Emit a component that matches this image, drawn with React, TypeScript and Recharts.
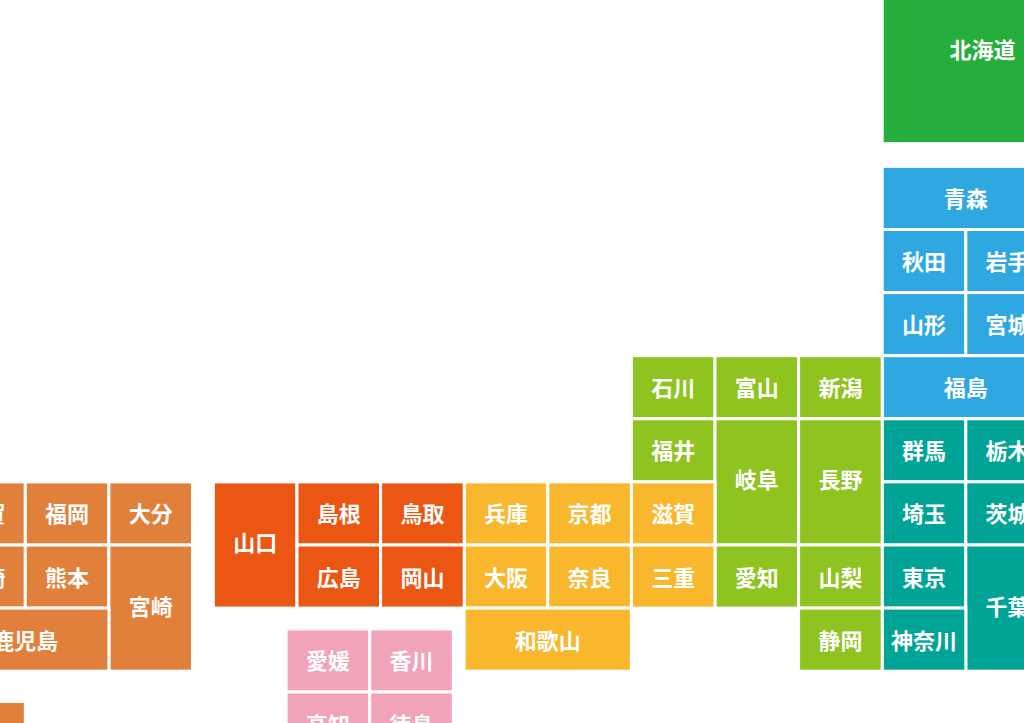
import { Scatter, ScatterChart, XAxis, YAxis } from "recharts";

// tile: [name, col, row, colSpan, rowSpan] in grid units
type Tile = [string, number, number, number, number];

const hokkaido: Tile[] = [["北海道", 8, -3.36, 2.4, 3]];

const tohoku: Tile[] = [
  ["青森", 8, 0, 2, 1],
  ["秋田", 8, 1, 1, 1],
  ["岩手", 9, 1, 1, 1],
  ["山形", 8, 2, 1, 1],
  ["宮城", 9, 2, 1, 1],
  ["福島", 8, 3, 2, 1],
];

const kanto: Tile[] = [
  ["群馬", 8, 4, 1, 1],
  ["栃木", 9, 4, 1, 1],
  ["埼玉", 8, 5, 1, 1],
  ["茨城", 9, 5, 1, 1],
  ["東京", 8, 6, 1, 1],
  ["千葉", 9, 6, 1, 2],
  ["神奈川", 8, 7, 1, 1],
];

const chubu: Tile[] = [
  ["石川", 5, 3, 1, 1],
  ["富山", 6, 3, 1, 1],
  ["新潟", 7, 3, 1, 1],
  ["福井", 5, 4, 1, 1],
  ["岐阜", 6, 4, 1, 2],
  ["長野", 7, 4, 1, 2],
  ["愛知", 6, 6, 1, 1],
  ["山梨", 7, 6, 1, 1],
  ["静岡", 7, 7, 1, 1],
];

const kansai: Tile[] = [
  ["兵庫", 3, 5, 1, 1],
  ["京都", 4, 5, 1, 1],
  ["滋賀", 5, 5, 1, 1],
  ["大阪", 3, 6, 1, 1],
  ["奈良", 4, 6, 1, 1],
  ["三重", 5, 6, 1, 1],
  ["和歌山", 3, 7, 2, 1],
];

const chugoku: Tile[] = [
  ["山口", 0, 5, 1, 2],
  ["島根", 1, 5, 1, 1],
  ["鳥取", 2, 5, 1, 1],
  ["広島", 1, 6, 1, 1],
  ["岡山", 2, 6, 1, 1],
];

const shikoku: Tile[] = [
  ["愛媛", 0.87, 7.33, 1, 1],
  ["香川", 1.87, 7.33, 1, 1],
  ["高知", 0.87, 8.33, 1, 1],
  ["徳島", 1.87, 8.33, 1, 1],
];

const kyushu: Tile[] = [
  ["佐賀", -3.25, 5, 1, 1],
  ["福岡", -2.25, 5, 1, 1],
  ["大分", -1.25, 5, 1, 1],
  ["長崎", -3.25, 6, 1, 1],
  ["熊本", -2.25, 6, 1, 1],
  ["宮崎", -1.25, 6, 1, 2],
  ["鹿児島", -3.25, 7, 2, 1],
  ["沖縄", -3.25, 8.48, 1, 1],
];

const regions: { name: string; tiles: Tile[]; color: string }[] = [
  { name: "北海道", tiles: hokkaido, color: "#25AE3B" },
  { name: "東北", tiles: tohoku, color: "#2FA8E1" },
  { name: "関東", tiles: kanto, color: "#00A496" },
  { name: "中部", tiles: chubu, color: "#8FC31F" },
  { name: "近畿", tiles: kansai, color: "#F9B72D" },
  { name: "中国", tiles: chugoku, color: "#EB5614" },
  { name: "四国", tiles: shikoku, color: "#F1A3B9" },
  { name: "九州", tiles: kyushu, color: "#E1803B" },
];

const xDomain = [-4, 11];
const yDomain = [-4, 10];
const colPx = 83.6;
const rowPx = 63.1;

function toPoints(tiles: Tile[]) {
  return tiles.map(([name, col, row, colSpan, rowSpan]) => ({
    name,
    x: col + colSpan / 2,
    y: row + rowSpan / 2,
    colSpan,
    rowSpan,
  }));
}

function TileShape(props: any) {
  const { cx, cy, payload, fill } = props;
  const w = payload.colSpan * colPx;
  const h = payload.rowSpan * rowPx;
  // labels on the two-row tiles sit a little above the middle
  const dy = payload.rowSpan === 2 ? -3.5 : -1;
  return (
    <g>
      <rect x={cx - w / 2} y={cy - h / 2} width={w} height={h} fill={fill} stroke="#fff" strokeWidth={3} />
      <text
        x={cx}
        y={cy + dy}
        textAnchor="middle"
        dominantBaseline="central"
        fill="#fff"
        fontSize={22}
        fontWeight={700}
        fontFamily="'Noto Sans CJK JP', sans-serif"
      >
        {payload.name}
      </text>
    </g>
  );
}

export default function App() {
  return (
    <div style={{ position: "absolute", left: 0, top: 0, width: 1024, height: 723, overflow: "hidden", background: "#fff" }}>
      <div style={{ position: "absolute", left: -120.9, top: -85.9 }}>
        <ScatterChart width={1254} height={883.4} margin={{ top: 0, right: 0, bottom: 0, left: 0 }}>
          <XAxis type="number" dataKey="x" domain={xDomain} hide />
          <YAxis type="number" dataKey="y" domain={yDomain} reversed hide />
          {regions.map(({ name, tiles, color }) => (
            <Scatter
              key={name}
              name={name}
              data={toPoints(tiles)}
              fill={color}
              shape={TileShape}
              isAnimationActive={false}
            />
          ))}
        </ScatterChart>
      </div>
    </div>
  );
}
